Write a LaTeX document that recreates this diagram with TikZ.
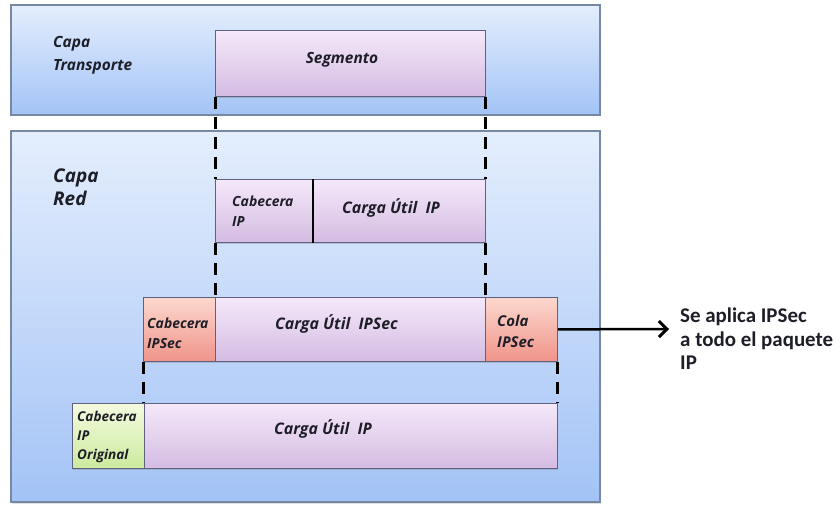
\documentclass[tikz,border=0pt]{standalone}
\usepackage{fontspec}
\newfontfamily\labfont{Open Sans}
\newfontfamily\notefont{Carlito}
\usetikzlibrary{shadows,arrows.meta}

\definecolor{panelTop}{RGB}{228,238,253}
\definecolor{panelBot}{RGB}{163,195,246}
\definecolor{panelLine}{RGB}{118,136,164}
\definecolor{lavTop}{RGB}{245,232,250}
\definecolor{lavBot}{RGB}{212,188,226}
\definecolor{boxLine}{RGB}{96,96,128}
\definecolor{redTop}{RGB}{252,216,206}
\definecolor{redBot}{RGB}{240,148,138}
\definecolor{greenTop}{RGB}{244,251,224}
\definecolor{greenBot}{RGB}{204,234,158}
\definecolor{ink}{RGB}{30,30,40}

\tikzset{
  panel/.style={draw=panelLine, line width=1.2bp, top color=panelTop, bottom color=panelBot,
    drop shadow={opacity=0.25, shadow xshift=1bp, shadow yshift=-1.5bp}},
  pktbox/.style={draw=boxLine, line width=0.8bp, inner sep=0pt,
    drop shadow={opacity=0.35, shadow xshift=0.6bp, shadow yshift=-1.6bp}},
  lav/.style={pktbox, top color=lavTop, bottom color=lavBot},
  redbox/.style={pktbox, top color=redTop, bottom color=redBot},
  greenbox/.style={pktbox, top color=greenTop, bottom color=greenBot},
  lbl/.style={font=\labfont\bfseries\itshape\fontsize{16}{20}\selectfont, text=ink,
    anchor=west, inner sep=0pt, align=left},
  small/.style={font=\labfont\bfseries\itshape\fontsize{14}{20}\selectfont},
  layer/.style={font=\labfont\bfseries\itshape\fontsize{15.5}{23.5}\selectfont, text=ink,
    anchor=west, inner sep=0pt, align=left},
  dashline/.style={draw=black, line width=3bp, dash pattern=on 12bp off 8bp},
  divider/.style={draw=black, line width=2.4bp},
  note/.style={font=\notefont\bfseries\fontsize{21}{23.5}\selectfont, text=ink,
    anchor=west, inner sep=0pt, align=left},
  pointer/.style={draw=black, line width=2.5bp, -{Straight Barb[length=8bp,width=16bp,line width=3bp]}}
}

\begin{document}
\begin{tikzpicture}[x=1bp,y=-1bp]
\useasboundingbox (0,0) rectangle (840,506);
\fill[white] (0,0) rectangle (840,506);

% layers
\path[panel] (11,5) rectangle (600,115);
\path[panel] (11,131) rectangle (600,502);
\node[layer] (capaT) at (53,55) {Capa\\Transporte};
\node[layer, font=\labfont\bfseries\itshape\fontsize{19}{23.5}\selectfont] (capaR) at (53,187) {Capa\\Red};

% transport segment
\node[lav, minimum width=270bp, minimum height=66bp, anchor=north west] (seg) at (215,30) {};
\node[lbl, font=\labfont\bfseries\itshape\fontsize{15.5}{20}\selectfont, anchor=center] (segT) at (342,60) {Segmento};

% IP packet
\node[lav, minimum width=98bp, minimum height=63bp, anchor=north west] (cabip) at (215,179) {};
\node[lav, minimum width=172bp, minimum height=63bp, anchor=north west] (cargaip) at (313,179) {};
\draw[divider] (cargaip.north west) -- (cargaip.south west);
\node[lbl, small] (cabipT) at (232,211) {Cabecera\\IP};
\node[lbl] (cargaipT) at (342,208) {Carga Útil\ \ IP};

% IPSec packet
\node[redbox, minimum width=72bp, minimum height=64bp, anchor=north west] (cabsec) at (143,297) {};
\node[lav, minimum width=270bp, minimum height=64bp, anchor=north west] (cargasec) at (215,297) {};
\node[redbox, minimum width=72bp, minimum height=64bp, anchor=north west] (cola) at (485,297) {};
\node[lbl, small] (cabsecT) at (147,333) {Cabecera\\IPSec};
\node[lbl] (cargasecT) at (275,324) {Carga Útil\ \ IPSec};
\node[lbl, font=\labfont\bfseries\itshape\fontsize{15}{21}\selectfont] (colaT) at (497,331) {Cola\\IPSec};

% original IP packet
\node[greenbox, minimum width=72bp, minimum height=65bp, anchor=north west] (orig) at (72,403) {};
\node[lav, minimum width=413bp, minimum height=65bp, anchor=north west] (cargaorig) at (144,403) {};
\node[lbl, font=\labfont\bfseries\itshape\fontsize{13.6}{19}\selectfont] (origT) at (77,437) {Cabecera\\IP\\Original};
\node[lbl] (cargaorigT) at (274,429) {Carga Útil\ \ IP};

% dashed guides between the layers
\draw[dashline] (seg.south west) -- (seg.south west |- cabip.north);
\draw[dashline] (seg.south east) -- (seg.south east |- cargaip.north);
\draw[dashline] (cabip.south west) -- (cabip.south west |- cargasec.north);
\draw[dashline] (cargaip.south east) -- (cargaip.south east |- cargasec.north);
\draw[dashline] (cabsec.south west) -- (cabsec.south west |- cargaorig.north);
\draw[dashline] (cola.south east) -- (cola.south east |- cargaorig.north);

% note
\node[note] (noteT) at (680,339) {Se aplica IPSec\\a todo el paquete\\IP};
\coordinate (tip) at (669,329);
\draw[pointer] (cola.east) -- (tip);
\end{tikzpicture}
\end{document}
